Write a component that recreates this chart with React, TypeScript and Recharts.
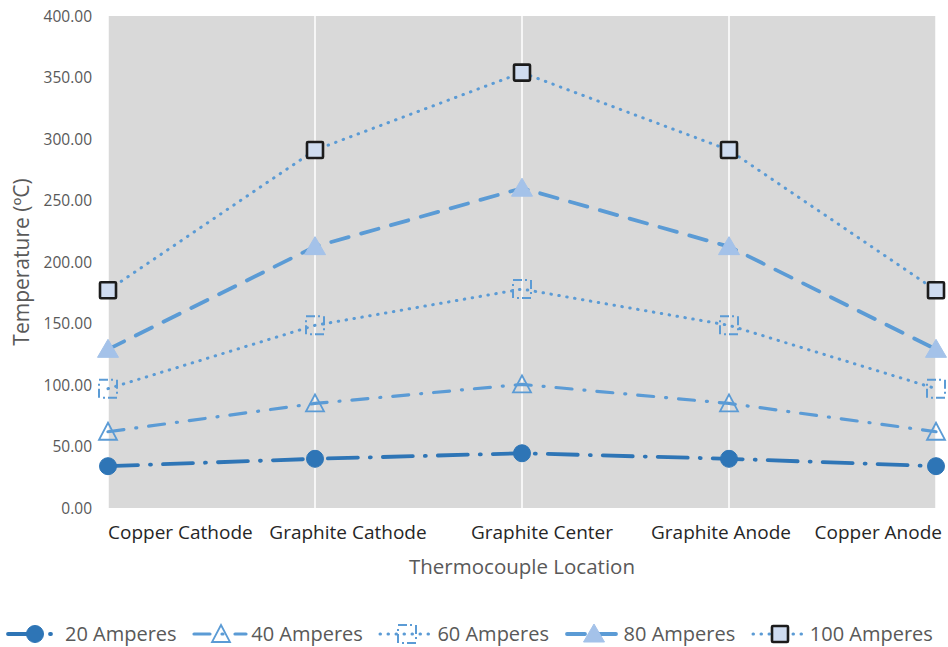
import { LineChart, Line, XAxis, YAxis, CartesianGrid, Legend } from "recharts"

const LOCATIONS = ["Copper Cathode", "Graphite Cathode", "Graphite Center", "Graphite Anode", "Copper Anode"]
const AMP_20 = [34, 40, 44.5, 40, 34]
const AMP_40 = [62, 85, 100.5, 85, 62]
const AMP_60 = [97, 148.5, 178, 148.5, 97]
const AMP_80 = [129, 212.5, 260, 212.5, 129]
const AMP_100 = [177, 291, 354, 291, 177]
const Y_TICKS = [0, 50, 100, 150, 200, 250, 300, 350, 400]

const FONT = "'Open Sans', 'Noto Sans', sans-serif"
const DARK = "#2e75b6"
const MID = "#5b9bd5"

const data = LOCATIONS.map((name, i) => ({
  name,
  a20: AMP_20[i],
  a40: AMP_40[i],
  a60: AMP_60[i],
  a80: AMP_80[i],
  a100: AMP_100[i],
}))

type Kind = "circle" | "triOpen" | "sqDotted" | "triFill" | "sqBlack"

function Marker({ kind, cx, cy }: { kind: Kind; cx: number; cy: number }) {
  if (kind === "circle") return <circle cx={cx} cy={cy} r={8.5} fill={DARK} stroke={DARK} strokeWidth={1} />
  if (kind === "triOpen")
    return <polygon points={`${cx},${cy - 9} ${cx + 9},${cy + 8} ${cx - 9},${cy + 8}`} fill="none" stroke={MID} strokeWidth={1.8} />
  if (kind === "triFill")
    return <polygon points={`${cx},${cy - 10} ${cx + 10.5},${cy + 8} ${cx - 10.5},${cy + 8}`} fill="#a4c2e9" stroke="#a4c2e9" strokeWidth={1} />
  if (kind === "sqDotted")
    return <rect x={cx - 9} y={cy - 9} width={18} height={18} fill="none" stroke={MID} strokeWidth={2} strokeDasharray="9 3 2 4" />
  return <rect x={cx - 8} y={cy - 8} width={16} height={16} fill="#cfdcf0" stroke="#1c1c1c" strokeWidth={2.6} rx={1} />
}

const dotFor = (kind: Kind) => (p: any) => (
  <Marker key={`${kind}-${p.index}`} kind={kind} cx={p.cx} cy={p.cy} />
)

const SERIES: { key: string; label: string; color: string; width: number; dash: string; kind: Kind }[] = [
  { key: "a20", label: "20 Amperes", color: DARK, width: 3.8, dash: "30 12 1 12", kind: "circle" },
  { key: "a40", label: "40 Amperes", color: MID, width: 3.2, dash: "16 12 1 12", kind: "triOpen" },
  { key: "a60", label: "60 Amperes", color: MID, width: 3, dash: "0.5 7.5", kind: "sqDotted" },
  { key: "a80", label: "80 Amperes", color: MID, width: 3.8, dash: "18 13", kind: "triFill" },
  { key: "a100", label: "100 Amperes", color: MID, width: 3, dash: "0.5 7.5", kind: "sqBlack" },
]

// Excel nudges the category labels so the outer ones stay inside the plot
const LocationTick = (props: any) => {
  const { x, y, payload, index } = props
  const last = LOCATIONS.length - 1
  const nudge = [0, 33, 20, -8, 6][index] ?? 0
  const anchor = index === 0 ? "start" : index === last ? "end" : "middle"
  return (
    <text x={x + nudge} y={y} dy="0.71em" textAnchor={anchor} fontSize={19} fill="#262626" fontFamily={FONT}>
      {payload.value}
    </text>
  )
}

const LegendContent = () => (
  <div style={{ display: "flex", alignItems: "center", fontFamily: FONT, fontSize: 20, color: "#595959", paddingLeft: 5 }}>
    {SERIES.map(s => (
      <div key={s.key} style={{ display: "flex", alignItems: "center", width: 188 }}>
        <svg width={58} height={24}>
          <line x1={3} y1={12} x2={55} y2={12} stroke={s.color} strokeWidth={s.width}
            strokeDasharray={s.dash} strokeLinecap="round" />
          <Marker kind={s.kind} cx={30} cy={12} />
        </svg>
        <span style={{ marginLeft: 2, whiteSpace: "nowrap" }}>{s.label}</span>
      </div>
    ))}
  </div>
)

export default function App() {
  return (
    <div style={{ position: "fixed", left: 0, top: 0, width: 948, height: 647, background: "#fff" }}>
      <LineChart width={948} height={647} data={data} margin={{ top: 16, right: 12, bottom: 0, left: 0 }}>
        <CartesianGrid fill="#d9d9d9" stroke="#ffffff" strokeWidth={1.5} horizontal={false} />
        <XAxis
          dataKey="name"
          axisLine={false}
          tickLine={false}
          tickSize={0}
          tickMargin={18}
          height={112}
          interval={0}
          tick={<LocationTick />}
          label={{ value: "Thermocouple Location", position: "insideBottom", offset: 46,
            style: { fontSize: 20.5, fill: "#595959", fontFamily: FONT } }}
        />
        <YAxis
          domain={[0, 400]}
          ticks={Y_TICKS}
          axisLine={false}
          tickLine={false}
          tickSize={0}
          tickMargin={16}
          width={108}
          tickFormatter={(v: number) => v.toFixed(2)}
          tick={{ fontSize: 15.5, fill: "#595959", fontFamily: FONT }}
          label={{ value: "Temperature (ºC)", angle: -90, position: "insideLeft", offset: 22,
            style: { textAnchor: "middle", fontSize: 21, fill: "#595959", fontFamily: FONT } }}
        />
        <Legend verticalAlign="bottom" content={<LegendContent />} wrapperStyle={{ paddingTop: 0 }} />
        {SERIES.map(s => (
          <Line
            key={s.key}
            type="linear"
            dataKey={s.key}
            name={s.label}
            stroke={s.color}
            strokeWidth={s.width}
            strokeDasharray={s.dash}
            strokeLinecap="round"
            dot={dotFor(s.kind)}
            activeDot={false}
            isAnimationActive={false}
          />
        ))}
      </LineChart>
    </div>
  )
}
